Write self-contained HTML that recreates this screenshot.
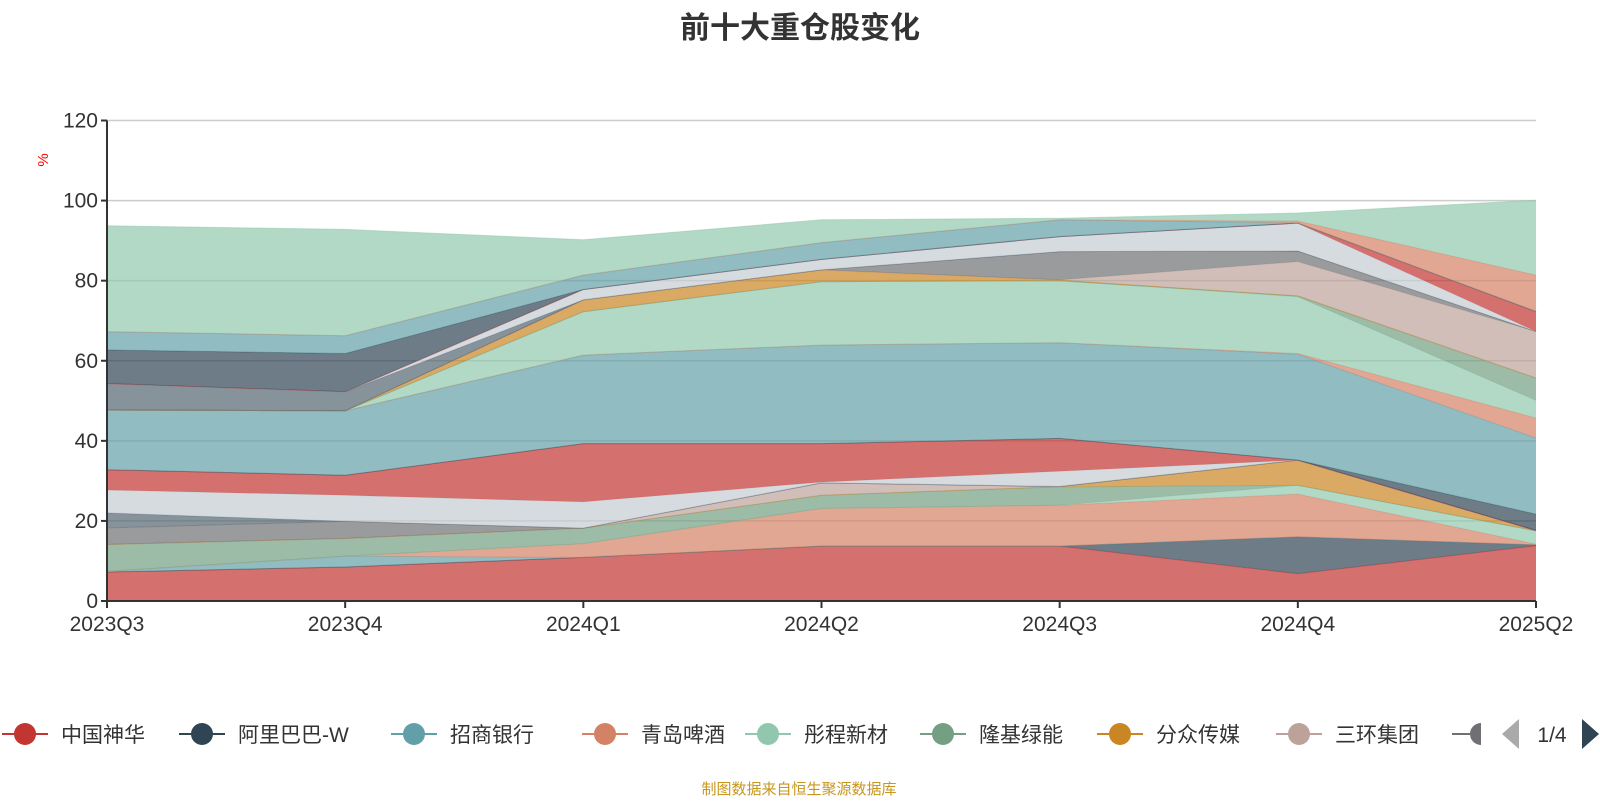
<!DOCTYPE html>
<html><head><meta charset="utf-8"><style>
html,body{margin:0;padding:0;background:#fff;}
body{width:1600px;height:800px;overflow:hidden;font-family:"Liberation Sans","Noto Sans CJK SC",sans-serif;}
</style></head><body>
<svg id="chart" width="1600" height="800" xmlns="http://www.w3.org/2000/svg" style="font-family:'Liberation Sans','Noto Sans CJK SC',sans-serif">
<text x="800" y="38" text-anchor="middle" font-size="30" font-weight="bold" fill="#333">前十大重仓股变化</text>
<g id="grid"></g>
<g id="areas"></g>
<g id="axes"></g>
<text x="48" y="160" font-size="15" fill="#ff0000" text-anchor="middle" transform="rotate(-90 48 160)">%</text>
<g id="legend"></g>
<text x="799" y="794" text-anchor="middle" font-size="15" fill="#c8961e">制图数据来自恒生聚源数据库</text>
</svg>
<script>
const categories = ["2023Q3","2023Q4","2024Q1","2024Q2","2024Q3","2024Q4","2025Q2"];
const yTicks = [0,20,40,60,80,100,120];
const palette = ['#c23531','#2f4554','#61a0a8','#d48265','#91c7ae','#749f83','#ca8622','#bda29a','#6e7074','#546570','#c4ccd3'];
const seriesNames = ["中国神华","阿里巴巴-W","招商银行","青岛啤酒","彤程新材","隆基绿能","分众传媒","三环集团","股票9","股票10","股票11","股票12","股票13","股票14","股票15","股票16","股票17","股票18","股票19","股票20","股票21","股票22","股票23","股票24","股票25","股票26","股票27"];
const s1 = [7.25,8.5,10.9,13.7,13.7,6.8,13.8];
const s2 = [0,0,0,0,0,9.2,0.2];
const s3 = [0.15,2.7,0,0,0,0,0];
const s4 = [0,0,3.4,9.4,10.2,10.7,0.2];
const s5 = [0,0,0,0,0,2.2,3.3];
const s6 = [6.7,4.4,3.9,3.3,4.6,0,0];
const s7 = [0,0,0,0,0.1,6.3,0.1];
const s8 = [0,0,0,3.1,0,0,0];
const s9 = [4.15,4.3,0,0,0,0,0];
const s10 = [3.75,0,0,0,0,0,0];
const s11 = [5.7,6.5,6.55,0.2,3.8,0,0];
const s12 = [5.1,5.0,14.55,9.6,8.2,0,0];
const s13 = [0,0,0,0,0,0,4.1];
const s14 = [14.9,16.1,22.1,24.6,23.9,26.4,19];
const s15 = [0,0,0,0,0,0.2,5];
const s16 = [0,0,10.85,15.85,15.5,14.2,4.4];
const s17 = [0,0,0,0,0,0.2,5.6];
const s18 = [0,0,2.95,2.95,0.2,0,0];
const s19 = [0,0,0,0,0,8.55,11.6];
const s20 = [0,0,0,0,7.05,2.65,0];
const s21 = [6.6,4.75,0,0,0,0,0];
const s22 = [0,0,2.6,2.6,3.75,6.9,0];
const s23 = [0,0,0,0,0,0.1,5];
const s24 = [8.4,9.55,0,0,0,0,0];
const s25 = [4.55,4.45,3.6,4.2,4.2,0,0];
const s26 = [0,0,0,0,0,0.5,9.1];
const s27 = [26.45,26.55,8.8,5.7,0.4,2.0,18.7];
const allSeries = [s1,s2,s3,s4,s5,s6,s7,s8,s9,s10,s11,s12,s13,s14,s15,s16,s17,s18,s19,s20,s21,s22,s23,s24,s25,s26,s27];

const NS = "http://www.w3.org/2000/svg";
const X0 = 107, X1 = 1536, Y0 = 601, YT = 120.5, YMAX = 120;
function xPos(i){ return X0 + (X1 - X0) * i / (categories.length - 1); }
function yPos(v){ return Y0 - (Y0 - YT) * v / YMAX; }
function mk(tag, attrs, parent){ const e = document.createElementNS(NS, tag); for (const k in attrs) e.setAttribute(k, attrs[k]); parent.appendChild(e); return e; }

const grid = document.getElementById('grid');
yTicks.forEach(t => {
  if (t === 0) return;
  const l = mk('line', {x1:X0, x2:X1, y1:yPos(t), y2:yPos(t), stroke:'#ccc', 'stroke-width':1.5}, grid);
  
  
});

const areas = document.getElementById('areas');
const base = categories.map(() => 0);
allSeries.forEach((s, si) => {
  const top = s.map((v, i) => base[i] + v);
  let d = 'M';
  top.forEach((v, i) => { d += (i ? ' L' : '') + xPos(i).toFixed(1) + ',' + yPos(v).toFixed(1); });
  for (let i = categories.length - 1; i >= 0; i--) d += ' L' + xPos(i).toFixed(1) + ',' + yPos(base[i]).toFixed(1);
  d += ' Z';
  const col = palette[si % palette.length];
  const p = mk('path', {d: d, fill: col, 'fill-opacity': 0.7, stroke: 'none'}, areas);
  
  
  let ld = 'M';
  top.forEach((v, i) => { ld += (i ? ' L' : '') + xPos(i).toFixed(1) + ',' + yPos(v).toFixed(1); });
  const ln = mk('path', {d: ld, fill: 'none', stroke: col, 'stroke-opacity': 0.5, 'stroke-width': 1}, areas);
  
  
  top.forEach((v, i) => base[i] = v);
});

const axes = document.getElementById('axes');
mk('line', {x1:X0, x2:X0, y1:YT, y2:Y0, stroke:'#333', 'stroke-width':2}, axes);
mk('line', {x1:X0, x2:X1, y1:Y0, y2:Y0, stroke:'#333', 'stroke-width':2}, axes);
yTicks.forEach(t => {
  mk('line', {x1:X0 - 6, x2:X0, y1:yPos(t), y2:yPos(t), stroke:'#333', 'stroke-width':2}, axes);
  const tx = mk('text', {x:X0 - 9, y:yPos(t) + 7, 'text-anchor':'end', 'font-size':21, fill:'#333'}, axes);
  tx.textContent = t;
  
  
});
categories.forEach((c, i) => {
  mk('line', {x1:xPos(i), x2:xPos(i), y1:Y0, y2:Y0 + 7, stroke:'#333', 'stroke-width':2}, axes);
  const tx = mk('text', {x:xPos(i), y:Y0 + 30, 'text-anchor':'middle', 'font-size':21, fill:'#333'}, axes);
  tx.textContent = c;
  
  
});

const legend = document.getElementById('legend');
const legendX = [2, 179, 391, 582, 745, 920, 1097, 1276];
const LY = 734;
legendX.forEach((lx, i) => {
  const g = mk('g', {}, legend);
  
  
  const col = palette[i];
  mk('line', {x1:lx, x2:lx + 46, y1:LY, y2:LY, stroke:col, 'stroke-width':2}, g);
  mk('circle', {cx:lx + 23, cy:LY, r:11, fill:col}, g);
  const t = mk('text', {x:lx + 59, y:LY + 8, 'font-size':21, fill:'#333'}, g);
  t.textContent = seriesNames[i];
});
const g9 = mk('g', {}, legend);


mk('line', {x1:1452, x2:1470, y1:LY, y2:LY, stroke:palette[8], 'stroke-width':2}, g9);
mk('path', {d:'M1481,'+(LY-11)+' A11,11 0 0 0 1481,'+(LY+11)+' Z', fill:palette[8]}, g9);
const prev = mk('path', {d:'M1502,'+LY+' L1519,'+(LY-15)+' L1519,'+(LY+15)+' Z', fill:'#aaa'}, legend);


const pg = mk('text', {x:1552, y:LY + 8, 'text-anchor':'middle', 'font-size':21, fill:'#333'}, legend);
pg.textContent = '1/4';


const next = mk('path', {d:'M1599,'+LY+' L1582,'+(LY-15)+' L1582,'+(LY+15)+' Z', fill:'#2f4554'}, legend);


</script>
</body></html>
